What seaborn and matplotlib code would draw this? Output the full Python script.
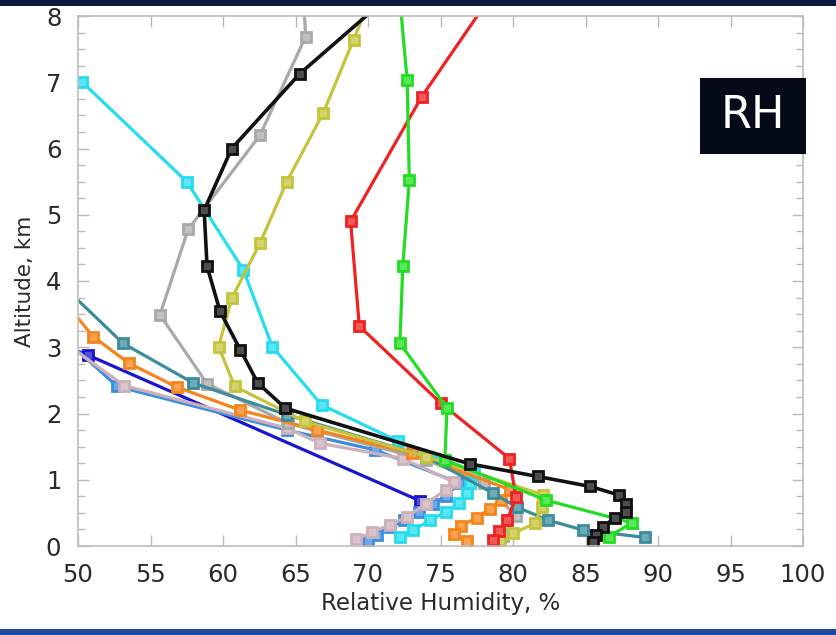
import numpy as np
import pandas as pd
import matplotlib
matplotlib.use("Agg")
import matplotlib.pyplot as plt
import matplotlib.colors as mcolors
from matplotlib.patches import Rectangle
from matplotlib.ticker import MultipleLocator
import seaborn as sns

# ---- data: (RH %, altitude km) per profile, ordered top to bottom ----
blue_rh = [48.0, 50.7, 73.6]
blue_alt = [3.12, 2.88, 0.68]

ltblue_rh = [49.2, 52.7, 64.4, 70.5, 76.3, 75.4, 74.5, 73.5, 72.5, 71.5, 70.6, 70.0]
ltblue_alt = [3.10, 2.41, 1.75, 1.45, 0.95, 0.76, 0.63, 0.51, 0.39, 0.28, 0.17, 0.07]

pink_rh = [49.5, 53.2, 64.4, 66.7, 72.4, 75.9, 75.4, 74.0, 72.7, 71.5, 70.3, 69.2]
pink_alt = [3.00, 2.42, 1.78, 1.55, 1.32, 0.97, 0.85, 0.64, 0.44, 0.32, 0.21, 0.10]

gray_rh = [65.5, 65.7, 62.55, 57.6, 55.65, 58.9, 64.5, 74.0, 78.0, 80.2, 79.3]
gray_alt = [8.50, 7.69, 6.20, 4.78, 3.49, 2.45, 1.85, 1.30, 0.95, 0.45, 0.15]

cyan_rh = [50.3, 57.5, 61.4, 63.4, 66.8, 72.1, 77.3, 77.0, 76.8, 76.3, 75.4, 74.3, 73.1, 72.2]
cyan_alt = [7.00, 5.50, 4.17, 3.01, 2.13, 1.58, 1.10, 0.95, 0.80, 0.65, 0.52, 0.39, 0.24, 0.13]

orange_rh = [48.0, 51.05, 53.5, 56.8, 61.2, 66.5, 73.0, 79.8, 79.2, 78.4, 77.5, 76.4, 75.9, 76.8]
orange_alt = [3.97, 3.16, 2.76, 2.40, 2.05, 1.75, 1.40, 0.85, 0.70, 0.56, 0.43, 0.30, 0.18, 0.07]

teal_rh = [48.0, 53.1, 57.95, 64.4, 74.0, 78.6, 80.25, 82.4, 84.85, 89.1]
teal_alt = [4.13, 3.06, 2.46, 1.98, 1.35, 0.80, 0.59, 0.39, 0.24, 0.13]

yellow_rh = [70.6, 69.0, 66.9, 64.4, 62.55, 60.6, 59.7, 60.8, 65.65, 74.0, 82.1, 82.0, 81.5, 80.0, 79.1]
yellow_alt = [8.50, 7.64, 6.53, 5.50, 4.57, 3.74, 3.01, 2.41, 1.88, 1.35, 0.77, 0.59, 0.34, 0.19, 0.09]

red_rh = [79.1, 73.7, 68.8, 69.4, 75.0, 79.75, 80.2, 79.6, 79.0, 78.6]
red_alt = [8.50, 6.78, 4.90, 3.32, 2.16, 1.32, 0.74, 0.39, 0.22, 0.09]

green_rh = [72.1, 72.7, 72.85, 72.4, 72.2, 75.45, 75.3, 82.3, 88.2, 86.6]
green_alt = [8.50, 7.03, 5.52, 4.23, 3.06, 2.08, 1.30, 0.69, 0.35, 0.14]

black_rh = [72.5, 65.3, 60.6, 58.7, 58.9, 59.8, 61.2, 62.4, 64.3, 77.0, 81.7, 85.3,
            87.3, 87.8, 87.8, 87.0, 86.2, 85.7, 85.5]
black_alt = [8.50, 7.13, 6.00, 5.07, 4.22, 3.54, 2.96, 2.46, 2.08, 1.24, 1.05, 0.90,
             0.77, 0.64, 0.52, 0.42, 0.29, 0.17, 0.06]

x_ticks = [50, 55, 60, 65, 70, 75, 80, 85, 90, 95, 100]
y_ticks = [0, 1, 2, 3, 4, 5, 6, 7, 8]

series = [
    ("blue", blue_rh, blue_alt, "#1a14d2"),
    ("ltblue", ltblue_rh, ltblue_alt, "#3a8ee0"),
    ("pink", pink_rh, pink_alt, "#cdb0bb"),
    ("gray", gray_rh, gray_alt, "#a9a9a9"),
    ("cyan", cyan_rh, cyan_alt, "#26dcef"),
    ("orange", orange_rh, orange_alt, "#f5841a"),
    ("teal", teal_rh, teal_alt, "#3d8c9c"),
    ("yellow", yellow_rh, yellow_alt, "#c4c43c"),
    ("red", red_rh, red_alt, "#ee2222"),
    ("green", green_rh, green_alt, "#22dd22"),
    ("black", black_rh, black_alt, "#111111"),
]

sns.set_theme(style="white")
plt.rcParams["font.family"] = ["DejaVu Sans"]

fig = plt.figure(figsize=(8.36, 6.35), dpi=100)
fig.patch.set_facecolor("white")
ax = fig.add_axes([78 / 836, 89 / 635, 725 / 836, 530 / 635])

for name, rh, alt, col in series:
    df = pd.DataFrame({"rh": rh, "alt": alt})
    rgb = np.array(mcolors.to_rgb(col))
    face = tuple(rgb * 0.75 + 0.25)
    sns.lineplot(data=df, x="rh", y="alt", sort=False, estimator=None, ax=ax,
                 color=col, lw=2.6 if name == "black" else 2.3,
                 marker="s", markersize=7, markeredgecolor=col,
                 markerfacecolor=face, markeredgewidth=2.0)

ax.set_xlim(50, 100)
ax.set_ylim(0, 8)
ax.set_xticks(x_ticks)
ax.set_yticks(y_ticks)
ax.set_xticklabels([str(v) for v in x_ticks])
ax.set_yticklabels([str(v) for v in y_ticks])
ax.yaxis.set_minor_locator(MultipleLocator(0.25))
ax.tick_params(axis="both", which="both", direction="in", top=True, right=True,
               bottom=True, left=True, color="#b8b8b8", labelcolor="#2a2a2a",
               labelsize=17.5)
ax.tick_params(axis="both", which="major", length=8, width=1)
ax.tick_params(axis="both", which="minor", length=5, width=1)
ax.tick_params(axis="x", which="major", pad=12)
ax.tick_params(axis="y", which="major", pad=12)
for sp in ax.spines.values():
    sp.set_color("#bdbdbd")
    sp.set_linewidth(1.2)
ax.set_xlabel("Relative Humidity, %", fontsize=16.5, color="#2a2a2a", labelpad=4)
ax.set_ylabel("Altitude, km", fontsize=15.5, color="#2a2a2a", labelpad=8)

# top navy band and bottom blue band
fig.patches.append(Rectangle((0, 1 - 6 / 635), 1, 6 / 635, transform=fig.transFigure,
                             facecolor="#0b1a40", edgecolor="none", zorder=10))
fig.patches.append(Rectangle((0, 0), 1, 6 / 635, transform=fig.transFigure,
                             facecolor="#1d4a9e", edgecolor="none", zorder=10))

# RH label box
fig.patches.append(Rectangle((700 / 836, (635 - 154) / 635), 106 / 836, 76 / 635,
                             transform=fig.transFigure, facecolor="#050a18",
                             edgecolor="none", zorder=10))
fig.text(753 / 836, (635 - 116) / 635, "RH", color="white", fontsize=32,
         ha="center", va="center", zorder=11)

fig.savefig("out.png", dpi=100)
